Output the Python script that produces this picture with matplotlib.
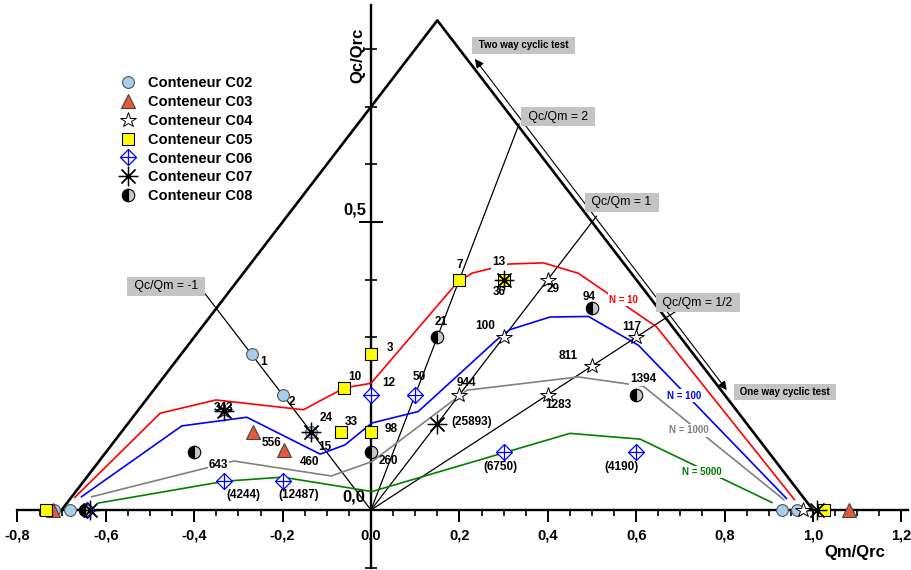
import numpy as np
import matplotlib
matplotlib.use('Agg')
import matplotlib.pyplot as plt

plt.rcParams['font.family'] = ['Liberation Sans', 'DejaVu Sans']

# Test points in the (Qm/Qrc, Qc/Qrc) plane for each container
c02_x = [-0.27, -0.20, -0.135, -0.717, -0.681, 0.929, 0.963]
c02_y = [0.27, 0.20, 0.135, 0.0, 0.0, 0.0, 0.0]
c03_x = [-0.266, -0.197, -0.72, 1.082]
c03_y = [0.136, 0.104, 0.0, 0.0]
c04_x = [0.40, 0.30, 0.20, 0.50, 0.40, 0.60, -0.333, 0.978]
c04_y = [0.40, 0.30, 0.20, 0.25, 0.20, 0.30, 0.172, 0.0]
c05_x = [0.20, 0.30, 0.0, -0.06, -0.068, 0.0, -0.736, 1.024]
c05_y = [0.40, 0.40, 0.27, 0.212, 0.136, 0.136, 0.0, 0.0]
c06_x = [0.0, 0.10, 0.30, 0.60, -0.333, -0.198, -0.643]
c06_y = [0.20, 0.20, 0.10, 0.10, 0.05, 0.05, 0.0]
c07_x = [-0.135, -0.333, 0.30, 0.15, -0.636, 1.01]
c07_y = [0.135, 0.172, 0.40, 0.15, 0.0, 0.0]
c08_x = [0.15, 0.50, 0.0, 0.60, -0.40, -0.647]
c08_y = [0.30, 0.35, 0.10, 0.20, 0.10, 0.0]

# Iso-N curves
n10_x = [-0.67, -0.477, -0.351, -0.153, -0.06, 0.0, 0.194, 0.228, 0.311, 0.39, 0.469, 0.646, 0.958]
n10_y = [0.022, 0.168, 0.191, 0.174, 0.212, 0.22, 0.394, 0.411, 0.427, 0.429, 0.411, 0.318, 0.018]
n100_x = [-0.655, -0.428, -0.281, -0.115, -0.059, 0.002, 0.107, 0.284, 0.314, 0.405, 0.492, 0.605, 0.94]
n100_y = [0.023, 0.146, 0.161, 0.097, 0.113, 0.151, 0.171, 0.295, 0.313, 0.335, 0.336, 0.286, 0.02]
n1000_x = [-0.632, -0.31, -0.09, 0.002, 0.217, 0.469, 0.616, 0.934]
n1000_y = [0.023, 0.085, 0.059, 0.084, 0.208, 0.231, 0.215, 0.018]
n5000_x = [-0.617, -0.33, -0.2, 0.002, 0.45, 0.609, 0.907]
n5000_y = [0.012, 0.05, 0.057, 0.032, 0.133, 0.123, 0.013]

# Stability triangle and constant Qc/Qm rays
tri_x = [-0.7, 0.15, 1.0]
tri_y = [0.0, 0.85, 0.0]
ratio_values = [-1, 2, 1, 0.5]
ratio_end_x = [-0.375, 0.335, 0.51, 0.69]
ratio_labels = ['Qc/Qm = -1', 'Qc/Qm = 2', 'Qc/Qm = 1', 'Qc/Qm = 1/2']
ratio_label_pos = [(-0.464, 0.388), (0.423, 0.683), (0.567, 0.534), (0.739, 0.36)]

x_ticks = [-0.8, -0.6, -0.4, -0.2, 0.0, 0.2, 0.4, 0.6, 0.8, 1.0, 1.2]
x_ticklabels = ['-0,8', '-0,6', '-0,4', '-0,2', '0,0', '0,2', '0,4', '0,6', '0,8', '1,0', '1,2']

# number of cycles written next to the points
point_labels = [
    ('1', -0.244, 0.257), ('2', -0.179, 0.188), ('343', -0.333, 0.177),
    ('556', -0.225, 0.116), ('460', -0.138, 0.083), ('24', -0.102, 0.159),
    ('15', -0.104, 0.110), ('33', -0.044, 0.153), ('10', -0.036, 0.231),
    ('643', -0.345, 0.078), ('(4244)', -0.289, 0.026), ('(12487)', -0.164, 0.026),
    ('7', 0.200, 0.425), ('13', 0.290, 0.431), ('36', 0.290, 0.379),
    ('29', 0.412, 0.383), ('94', 0.494, 0.370), ('21', 0.158, 0.327),
    ('100', 0.258, 0.319), ('811', 0.446, 0.267), ('3', 0.043, 0.282),
    ('12', 0.041, 0.221), ('50', 0.109, 0.231), ('944', 0.215, 0.221),
    ('1283', 0.424, 0.182), ('(25893)', 0.228, 0.153), ('98', 0.045, 0.140),
    ('260', 0.039, 0.085), ('(6750)', 0.292, 0.075), ('117', 0.590, 0.318),
    ('1394', 0.615, 0.227), ('(4190)', 0.567, 0.075),
]
gap_labels = ['643', '1394', '13']

fig = plt.figure(figsize=(9.12, 5.7), dpi=100)
ax = fig.add_axes([0, 0, 1, 1])
ax.set_xlim(-0.8394, 1.2240)
ax.set_ylim(-0.1042, 0.8854)

for s in ['top', 'right']:
    ax.spines[s].set_visible(False)
ax.spines['bottom'].set_position(('data', 0))
ax.spines['left'].set_position(('data', 0))
ax.spines['bottom'].set_bounds(-0.80, 1.215)
ax.spines['left'].set_bounds(-0.1, 0.877)
ax.spines['bottom'].set_linewidth(1.7)
ax.spines['left'].set_linewidth(1.7)

ax.set_xticks(x_ticks)
ax.set_xticklabels(x_ticklabels, fontsize=10.5, fontweight='bold')
ax.set_xticks(np.arange(-0.8, 1.2001, 0.05), minor=True)
ax.tick_params(axis='x', which='major', direction='out', length=8.5, width=1.4, pad=5)
ax.tick_params(axis='x', which='minor', direction='out', length=4.3, width=1.2)
ax.set_yticks([0.0, 0.5])
ax.set_yticklabels([])
ax.set_yticks(np.arange(-0.1, 0.85, 0.1), minor=True)
ax.tick_params(axis='y', which='major', direction='inout', length=17, width=1.4)
ax.tick_params(axis='y', which='minor', direction='inout', length=8.6, width=1.2)

ax.text(-0.036, 0.521, '0,5', fontsize=12, fontweight='bold', ha='center', va='center')
ax.text(-0.038, 0.023, '0,0', fontsize=12, fontweight='bold', ha='center', va='center')
ax.text(1.095, -0.073, 'Qm/Qrc', fontsize=12, fontweight='bold', ha='center', va='center')
ax.text(-0.029, 0.79, 'Qc/Qrc', fontsize=12, fontweight='bold', ha='center', va='center',
        rotation=90)

# triangle
ax.plot(tri_x, tri_y, color='black', lw=1.9, zorder=2)

# rays from origin
for r, xe, lab, (lx, ly) in zip(ratio_values, ratio_end_x, ratio_labels, ratio_label_pos):
    ax.plot([0, xe], [0, r * xe], color='black', lw=0.9, zorder=2)
    ax.text(lx, ly, ' ' + lab + ' ', fontsize=8.8, ha='center', va='center', zorder=7,
            bbox=dict(boxstyle='square,pad=0.3', fc='#c4c4c4', ec='none'))

# cyclic test arrow
ax.annotate('', xy=(0.235, 0.783), xytext=(0.805, 0.208),
            arrowprops=dict(arrowstyle='<|-|>', color='black', lw=0.8,
                            mutation_scale=13, shrinkA=0, shrinkB=0), zorder=3)
ax.text(0.345, 0.807, ' Two way cyclic test ', fontsize=7, fontweight='bold',
        ha='center', va='center', zorder=7,
        bbox=dict(boxstyle='square,pad=0.35', fc='#c4c4c4', ec='none'))
ax.text(0.936, 0.205, ' One way cyclic test ', fontsize=7, fontweight='bold',
        ha='center', va='center', zorder=7,
        bbox=dict(boxstyle='square,pad=0.35', fc='#c4c4c4', ec='none'))

# iso-N curves
ax.plot(n10_x, n10_y, color='red', lw=1.2, zorder=3)
ax.plot(n100_x, n100_y, color='blue', lw=1.2, zorder=3)
ax.plot(n1000_x, n1000_y, color='gray', lw=1.2, zorder=3)
ax.plot(n5000_x, n5000_y, color='green', lw=1.2, zorder=3)
for txt, x, y, c in [('N = 10', 0.572, 0.365, 'red'), ('N = 100', 0.709, 0.198, 'blue'),
                     ('N = 1000', 0.718, 0.138, 'gray'), ('N = 5000', 0.748, 0.066, 'green')]:
    ax.text(x, y, txt, color=c, fontsize=7, fontweight='bold', ha='center', va='center',
            zorder=4, bbox=dict(boxstyle='square,pad=0.15', fc='white', ec='none'))

# markers
h02, = ax.plot(c02_x, c02_y, 'o', ms=8.5, mfc='#a6cdea', mec='#555555', mew=0.8, zorder=5)
h03, = ax.plot(c03_x, c03_y, '^', ms=10.5, mfc='#e05a3c', mec='#444444', mew=0.8, zorder=5)
h04, = ax.plot(c04_x, c04_y, '*', ms=11.5, mfc='white', mec='black', mew=0.7, zorder=6)
h05, = ax.plot(c05_x, c05_y, 's', ms=8.3, mfc='#ffff00', mec='black', mew=0.8, zorder=5)
h06a, = ax.plot(c06_x, c06_y, 'D', ms=8.3, mfc='white', mec='blue', mew=0.9, zorder=5)
h06b, = ax.plot(c06_x, c06_y, '+', ms=11.5, mec='blue', mew=0.9, zorder=5)
h07, = ax.plot(c07_x, c07_y, marker=(8, 2, 0), ls='none', ms=14, mec='black', mew=0.9, zorder=6)
h08, = ax.plot(c08_x, c08_y, 'o', ms=9, fillstyle='left', mfc='black', mfcalt='#c8c8c8',
               mec='black', mew=0.8, zorder=5)

for txt, x, y in point_labels:
    if txt in gap_labels:
        ax.text(x, y, txt, fontsize=8.5, fontweight='bold', ha='center', va='center', zorder=4,
                bbox=dict(boxstyle='square,pad=0.1', fc='white', ec='none'))
    else:
        ax.text(x, y, txt, fontsize=8.5, fontweight='bold', ha='center', va='center', zorder=7)

ax.legend([h02, h03, h04, h05, (h06a, h06b), h07, h08],
          ['Conteneur C02', 'Conteneur C03', 'Conteneur C04', 'Conteneur C05',
           'Conteneur C06', 'Conteneur C07', 'Conteneur C08'],
          loc='upper left', bbox_to_anchor=(112 / 912, 1 - 69 / 570),
          bbox_transform=fig.transFigure, frameon=False, borderpad=0,
          handlelength=1.2, handletextpad=0.75, labelspacing=0.33,
          prop=dict(size=10.5, weight='bold'))

fig.savefig('out.png', dpi=100)
